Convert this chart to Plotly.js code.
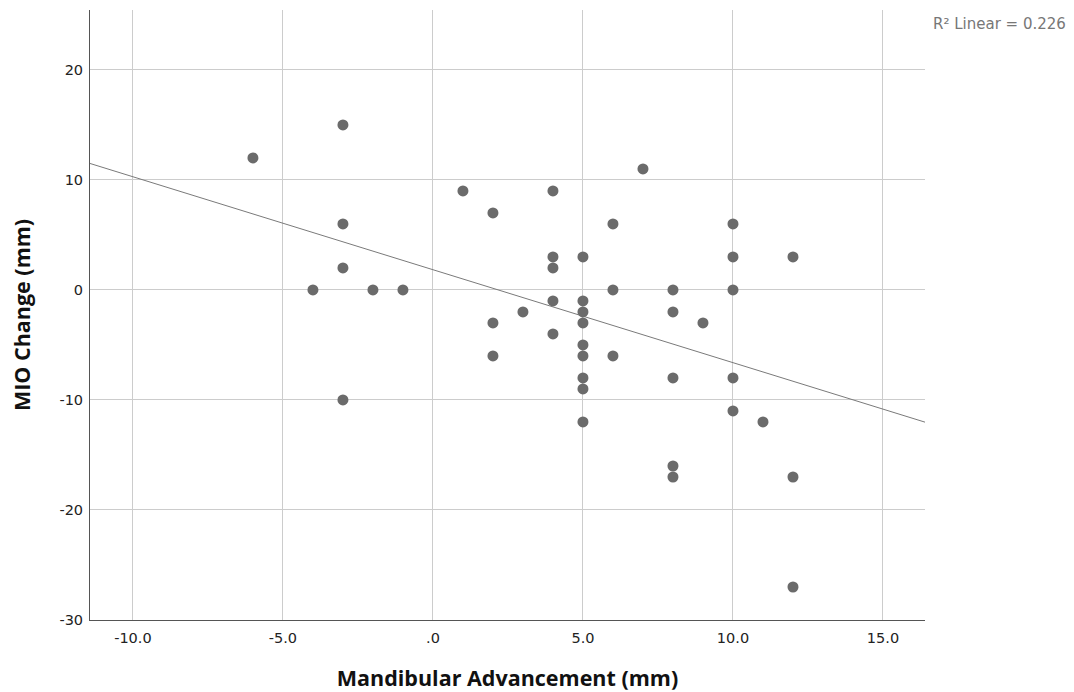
<!DOCTYPE html>
<html><head><meta charset="utf-8">
<script src="https://cdn.plot.ly/plotly-3.0.1.min.js"></script>
<style>html,body{margin:0;padding:0;background:#fff}#chart{width:1074px;height:692px}</style>
</head><body><div id="chart"></div>
<script>
const advancement = [-6,-3,-3,-3,-4,-2,-1,-3,
  1,2,2,2,3,4,4,4,4,4,
  5,5,5,5,5,5,5,5,5,
  6,6,6,7,8,8,8,8,8,9,
  10,10,10,10,10,11,12,12,12];
const mioChange = [12,15,6,2,0,0,0,-10,
  9,7,-3,-6,-2,9,3,2,-1,-4,
  3,-1,-2,-3,-5,-6,-8,-9,-12,
  6,0,-6,11,0,-2,-8,-16,-17,-3,
  6,3,0,-8,-11,-12,3,-17,-27];
const xTickVals = [-10,-5,0,5,10,15];
const xTickText = ['-10.0','-5.0','.0','5.0','10.0','15.0'];
const yTickVals = [-30,-20,-10,0,10,20];
const yTickText = ['-30','-20','-10','0','10','20'];
const r2Label = 'R² Linear = 0.226';
const xRange = [-11.43, 16.4];
const yRange = [-30, 25.45];

// least squares fit line
const n = advancement.length;
const mx = advancement.reduce((a,b)=>a+b,0)/n;
const my = mioChange.reduce((a,b)=>a+b,0)/n;
let sxy=0,sxx=0;
for(let i=0;i<n;i++){const dx=advancement[i]-mx,dy=mioChange[i]-my;sxy+=dx*dy;sxx+=dx*dx;}
const slope=sxy/sxx, intercept=my-slope*mx;
const fitX=[xRange[0],xRange[1]];
const fitY=fitX.map(x=>intercept+slope*x);

const tickFont={family:'DejaVu Sans, sans-serif',size:14.5,color:'#222'};
const titleFont={family:'Open Sans, sans-serif',size:21.5,color:'#111',weight:'bold'};
const traces=[
 {x:fitX,y:fitY,mode:'lines',line:{color:'#7a7a7a',width:1},hoverinfo:'skip',showlegend:false},
 {x:advancement,y:mioChange,mode:'markers',marker:{color:'#6b6b6b',size:11},showlegend:false}
];
const layout={
 width:1074,height:692,
 margin:{l:90,r:149,t:10,b:72},
 paper_bgcolor:'#fff',plot_bgcolor:'#fff',
 showlegend:false,
 font:{family:'DejaVu Sans, sans-serif',color:'#222'},
 xaxis:{range:xRange,tickvals:xTickVals,ticktext:xTickText,showgrid:true,gridcolor:'#cccccc',gridwidth:1,
   zeroline:false,showline:true,linecolor:'#555',linewidth:1,ticks:'outside',ticklen:5,tickcolor:'rgba(0,0,0,0)',
   tickfont:tickFont,
   title:{text:'Mandibular Advancement (mm)',font:titleFont,standoff:26}},
 yaxis:{range:yRange,tickvals:yTickVals,ticktext:yTickText,showgrid:true,gridcolor:'#cccccc',gridwidth:1,
   zeroline:false,showline:true,linecolor:'#555',linewidth:1,ticks:'outside',ticklen:3,tickcolor:'rgba(0,0,0,0)',
   tickfont:tickFont,
   title:{text:'MIO Change (mm)',font:titleFont,standoff:22}},
 annotations:[{xref:'paper',yref:'paper',x:1.0,y:0.977,xanchor:'left',yanchor:'middle',xshift:6,
   text:r2Label,showarrow:false,font:{family:'DejaVu Sans, sans-serif',size:15,color:'#777'}}]
};
Plotly.newPlot('chart',traces,layout,{displayModeBar:false,staticPlot:true});
</script></body></html>
